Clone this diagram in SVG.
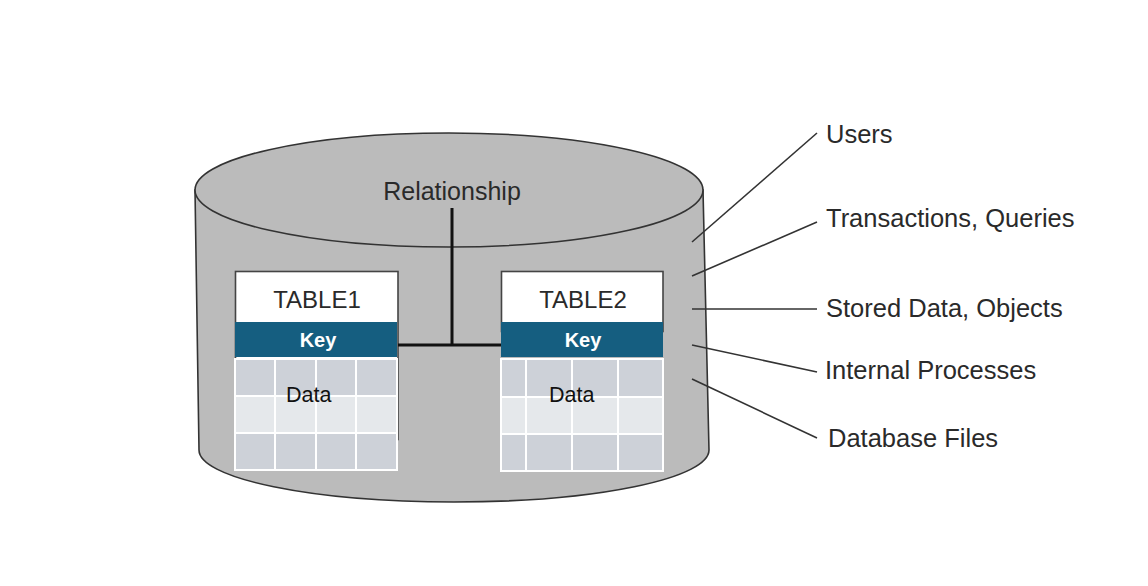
<svg xmlns="http://www.w3.org/2000/svg" width="1148" height="586" viewBox="0 0 1148 586">
<style>
.lbl{font-family:"Liberation Sans",Arial,sans-serif;font-size:24px;fill:#2a2a2a}
.side{font-family:"Liberation Sans",Arial,sans-serif;font-size:25.5px;fill:#2a2a2a}
.key{font-family:"Liberation Sans",Arial,sans-serif;font-size:20px;font-weight:bold;fill:#ffffff}
.data{font-family:"Liberation Sans",Arial,sans-serif;font-size:21.5px;fill:#111}
.lead{stroke:#333;stroke-width:1.6;fill:none}
.cell{stroke:#ffffff;stroke-width:2}
.dark{fill:#cdd1d8}
.light{fill:#e5e8eb}
</style>
<rect width="1148" height="586" fill="#ffffff"/>
<g id="database">
<path d="M195,190 L199,450 A255,52 0 0 0 709,450 L703,190 Z" fill="#bbbbbb" stroke="#333" stroke-width="1.6"/>
<ellipse cx="449" cy="190" rx="254" ry="57" fill="#bbbbbb" stroke="#333" stroke-width="1.6"/>
</g>
<g id="table1">
<rect x="235.5" y="271.5" width="162.5" height="168" fill="#ffffff" stroke="#444" stroke-width="1.6"/>
<text class="lbl" x="317" y="308" text-anchor="middle">TABLE1</text>
<rect x="235" y="322" width="162" height="35" fill="#155e80"/>
<text class="key" x="318" y="347" text-anchor="middle">Key</text>
<g class="cell">
<rect class="dark" x="235" y="359" width="40" height="37"/><rect class="dark" x="275" y="359" width="41" height="37"/><rect class="dark" x="316" y="359" width="40" height="37"/><rect class="dark" x="356" y="359" width="41" height="37"/>
<rect class="light" x="235" y="396" width="40" height="37"/><rect class="light" x="275" y="396" width="41" height="37"/><rect class="light" x="316" y="396" width="40" height="37"/><rect class="light" x="356" y="396" width="41" height="37"/>
<rect class="dark" x="235" y="433" width="40" height="37"/><rect class="dark" x="275" y="433" width="41" height="37"/><rect class="dark" x="316" y="433" width="40" height="37"/><rect class="dark" x="356" y="433" width="41" height="37"/>
</g>
<text class="data" x="286" y="402">Data</text>
</g>
<g id="table2">
<rect x="501.5" y="271.5" width="161.5" height="60" fill="#ffffff" stroke="#444" stroke-width="1.6"/>
<text class="lbl" x="583" y="308" text-anchor="middle">TABLE2</text>
<rect x="501" y="322" width="162" height="35" fill="#155e80"/>
<text class="key" x="583" y="347" text-anchor="middle">Key</text>
<g class="cell">
<rect class="dark" x="501" y="359" width="25" height="38"/><rect class="dark" x="526" y="359" width="46" height="38"/><rect class="dark" x="572" y="359" width="46" height="38"/><rect class="dark" x="618" y="359" width="45" height="38"/>
<rect class="light" x="501" y="397" width="25" height="37"/><rect class="light" x="526" y="397" width="46" height="37"/><rect class="light" x="572" y="397" width="46" height="37"/><rect class="light" x="618" y="397" width="45" height="37"/>
<rect class="dark" x="501" y="434" width="25" height="37"/><rect class="dark" x="526" y="434" width="46" height="37"/><rect class="dark" x="572" y="434" width="46" height="37"/><rect class="dark" x="618" y="434" width="45" height="37"/>
</g>
<text class="data" x="549" y="402">Data</text>
</g>
<g id="relationship">
<text class="lbl" x="452" y="200" text-anchor="middle" style="font-size:25px">Relationship</text>
</g>
<g id="labels">
<text class="side" x="826" y="143">Users</text>
<text class="side" x="826" y="227">Transactions, Queries</text>
<text class="side" x="826" y="317">Stored Data, Objects</text>
<text class="side" x="825" y="379">Internal Processes</text>
<text class="side" x="828" y="447">Database Files</text>
</g>
<g id="connectors">
<path d="M452,208 V345 M398,345 H501" stroke="#111" stroke-width="3" fill="none"/>
<line class="lead" x1="692" y1="242" x2="817" y2="133"/>
<line class="lead" x1="692" y1="276" x2="817" y2="222"/>
<line class="lead" x1="692" y1="309" x2="817" y2="309"/>
<line class="lead" x1="692" y1="345" x2="817" y2="372"/>
<line class="lead" x1="692" y1="379" x2="817" y2="438"/>
</g>
</svg>
